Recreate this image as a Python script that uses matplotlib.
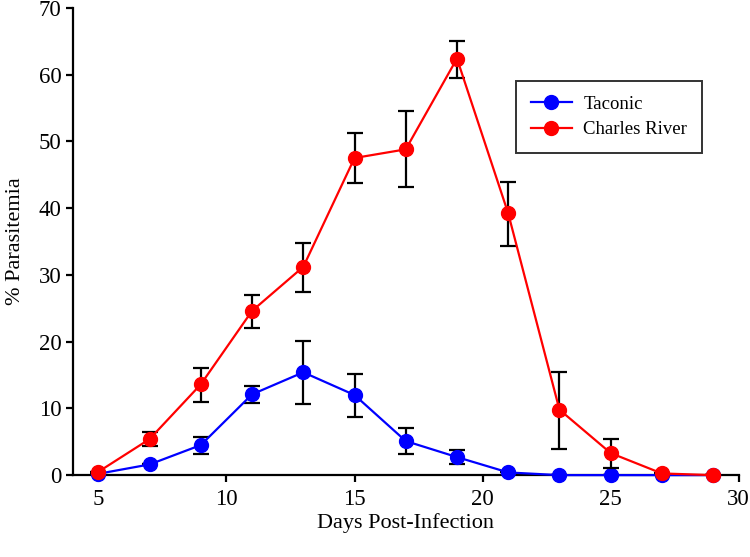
import numpy as np
import matplotlib.pyplot as plt

plt.rcParams['font.family'] = ['Liberation Serif', 'DejaVu Serif']

days = [5, 7, 9, 11, 13, 15, 17, 19, 21, 23, 25, 27, 29]

# Taconic
taconic = [0.2, 1.6, 4.5, 12.1, 15.4, 12.0, 5.1, 2.7, 0.4, 0.0, 0.0, 0.0, 0.0]
taconic_lo = [0.2, 1.6, 3.2, 10.8, 10.7, 8.7, 3.1, 1.7, 0.4, 0.0, 0.0, 0.0, 0.0]
taconic_hi = [0.2, 1.6, 5.7, 13.3, 20.1, 15.2, 7.1, 3.7, 0.4, 0.0, 0.0, 0.0, 0.0]

# Charles River
charles = [0.5, 5.4, 13.6, 24.6, 31.2, 47.5, 48.8, 62.4, 39.2, 9.8, 3.3, 0.25, 0.0]
charles_lo = [0.5, 4.3, 11.0, 22.0, 27.5, 43.7, 43.1, 59.5, 34.3, 3.9, 1.0, 0.25, 0.0]
charles_hi = [0.5, 6.4, 16.1, 27.0, 34.8, 51.2, 54.6, 65.0, 43.9, 15.4, 5.4, 0.25, 0.0]

fig = plt.figure(figsize=(7.5, 5.57), dpi=100)
ax = fig.add_axes([0.097, 0.147, 0.888, 0.839])

def draw(y, lo, hi, color, label, z):
    y = np.array(y)
    err = [y - np.array(lo), np.array(hi) - y]
    ax.errorbar(days, y, yerr=err, fmt='none', ecolor='black', elinewidth=1.6,
                capsize=6, capthick=1.6, zorder=z)
    ax.plot(days, y, color=color, lw=1.6, marker='o', markersize=10,
            label=label, zorder=z + 1, clip_on=False)

draw(taconic, taconic_lo, taconic_hi, '#0000ff', 'Taconic', 2)
draw(charles, charles_lo, charles_hi, '#ff0000', 'Charles River', 4)

ax.set_xlim(4, 30)
ax.set_ylim(0, 70)
ax.set_xticks([5, 10, 15, 20, 25, 30])
ax.set_yticks(range(0, 71, 10))
ax.spines['top'].set_visible(False)
ax.spines['right'].set_visible(False)
for s in ['left', 'bottom']:
    ax.spines[s].set_linewidth(1.6)
ax.tick_params(direction='out', length=5, width=1.6, labelsize=16.5, pad=3)
ax.tick_params(axis='x', pad=5)

ax.set_xlabel('Days Post-Infection', fontsize=16, labelpad=2)
ax.set_ylabel('% Parasitemia', fontsize=16, labelpad=10)

leg = ax.legend(loc='upper left', bbox_to_anchor=(0.665, 0.844), borderaxespad=0,
                fontsize=13.5, frameon=True, fancybox=False, edgecolor='black',
                handlelength=2.2, handletextpad=0.6, borderpad=0.8,
                labelspacing=0.45)
leg.get_frame().set_linewidth(1.4)

fig.savefig('out.png', dpi=100)
